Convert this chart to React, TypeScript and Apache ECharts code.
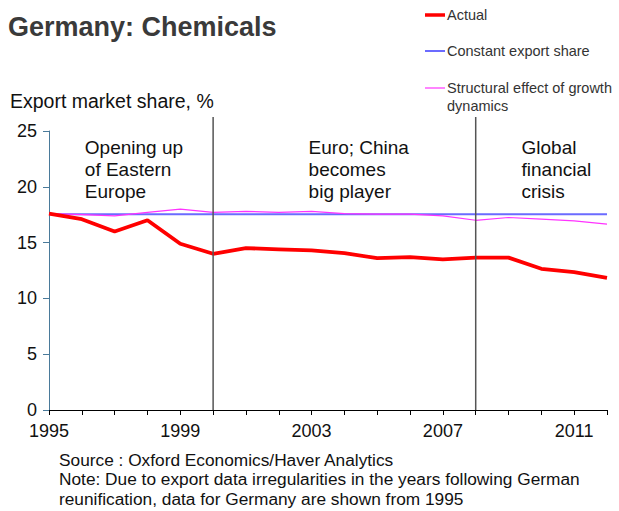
import React, { useEffect, useRef } from "react";
import * as echarts from "echarts";

const years = ["1995","1996","1997","1998","1999","2000","2001","2002","2003","2004","2005","2006","2007","2008","2009","2010","2011","2012"];
const actual = [17.6, 17.1, 16.0, 17.0, 14.9, 14.0, 14.5, 14.4, 14.3, 14.05, 13.6, 13.7, 13.5, 13.65, 13.65, 12.65, 12.35, 11.85];
const constantShare = [17.55, 17.55, 17.55, 17.55, 17.55, 17.55, 17.55, 17.55, 17.55, 17.55, 17.55, 17.55, 17.55, 17.55, 17.55, 17.55, 17.55, 17.55];
const structural = [17.6, 17.5, 17.4, 17.7, 18.0, 17.7, 17.8, 17.7, 17.8, 17.6, 17.55, 17.55, 17.4, 17.0, 17.25, 17.1, 16.95, 16.65];
const seriesNames = ["Actual", "Constant export share", "Structural effect of growth\ndynamics"];
const seriesColors = ["#ff0000", "#6b6bff", "#ff33ff"];
const periodBreaks = ["2000", "2008"];
const periodLabels = ["Opening up\nof Eastern\nEurope", "Euro; China\nbecomes\nbig player", "Global\nfinancial\ncrisis"];
const periodLabelYears = ["1996", "2003", "2009"];
const yTicks = { min: 0, max: 25, interval: 5 };

const FONT = "Liberation Sans, Arial, sans-serif";

export default function App() {
  const ref = useRef<HTMLDivElement>(null);
  useEffect(() => {
    document.body.style.margin = "0";
    const chart = echarts.init(ref.current!, null, { renderer: "svg" });
    const option: any = {
      animation: false,
      backgroundColor: "#ffffff",
      textStyle: { fontFamily: FONT },
      grid: { left: 49, right: 12, top: 131, bottom: 101 },
      xAxis: {
        type: "category",
        data: years,
        boundaryGap: false,
        axisLine: { lineStyle: { color: "#000", width: 1 } },
        axisTick: { interval: 0, length: 5, lineStyle: { color: "#000" } },
        axisLabel: { interval: 3, fontSize: 18, color: "#111", margin: 12, fontFamily: FONT },
        splitLine: { show: false },
      },
      yAxis: {
        type: "value",
        min: yTicks.min,
        max: yTicks.max,
        interval: yTicks.interval,
        axisLine: { show: true, lineStyle: { color: "#4a7a9a", width: 1 } },
        axisTick: { show: true, length: 6, lineStyle: { color: "#4a7a9a" } },
        axisLabel: { fontSize: 18, color: "#111", margin: 12, fontFamily: FONT },
        splitLine: { show: false },
      },
      series: [
        { name: seriesNames[1], type: "line", data: constantShare, symbol: "none", lineStyle: { color: seriesColors[1], width: 2 }, z: 2 },
        { name: seriesNames[2], type: "line", data: structural, symbol: "none", lineStyle: { color: seriesColors[2], width: 1.2 }, z: 3 },
        { name: seriesNames[0], type: "line", data: actual, symbol: "none", lineStyle: { color: seriesColors[0], width: 3.8 }, z: 4 },
      ],
    };
    chart.setOption(option);

    const graphics: any[] = [];
    graphics.push({
      type: "text", left: 8, top: 13,
      style: { text: "Germany: Chemicals", fontSize: 27, fontWeight: "bold", fill: "#3a3a3a", fontFamily: FONT },
    });
    graphics.push({
      type: "text", left: 10, top: 91,
      style: { text: "Export market share, %", fontSize: 19.5, fill: "#111", fontFamily: FONT },
    });
    // legend
    const legendY = [15, 51, 88];
    const legendWidths = [3.5, 2, 1.2];
    [0, 1, 2].forEach((i) => {
      graphics.push({
        type: "line",
        shape: { x1: 425, y1: legendY[i], x2: 445, y2: legendY[i] },
        style: { stroke: seriesColors[i], lineWidth: legendWidths[i] },
      });
      graphics.push({
        type: "text", x: 447, y: legendY[i] - 9,
        style: { text: seriesNames[i], fontSize: 14.5, lineHeight: 18, fill: "#333", fontFamily: FONT },
      });
    });
    // vertical period lines
    const bottomY = chart.convertToPixel({ yAxisIndex: 0 }, 0) as number;
    periodBreaks.forEach((yr) => {
      const x = chart.convertToPixel({ xAxisIndex: 0 }, yr) as number;
      graphics.push({
        type: "line",
        shape: { x1: x, y1: 117, x2: x, y2: bottomY },
        style: { stroke: "#555", lineWidth: 1.5 },
        z: 10,
      });
    });
    // period annotations
    periodLabelYears.forEach((yr, i) => {
      const x = chart.convertToPixel({ xAxisIndex: 0 }, yr) as number;
      graphics.push({
        type: "text", x: x + [3, -3, 13][i], y: 136,
        style: { text: periodLabels[i], fontSize: 19, lineHeight: 22, fill: "#111", fontFamily: FONT },
      });
    });
    // source note
    graphics.push({
      type: "text", x: 59, y: 450,
      style: {
        text: "Source : Oxford Economics/Haver Analytics\nNote: Due to export data irregularities in the years following German\nreunification, data for Germany are shown from 1995",
        fontSize: 17.3, lineHeight: 19.5, fill: "#111", fontFamily: FONT,
      },
    });
    chart.setOption({ graphic: graphics });
    return () => chart.dispose();
  }, []);
  return <div ref={ref} style={{ width: 619, height: 511 }} />;
}
